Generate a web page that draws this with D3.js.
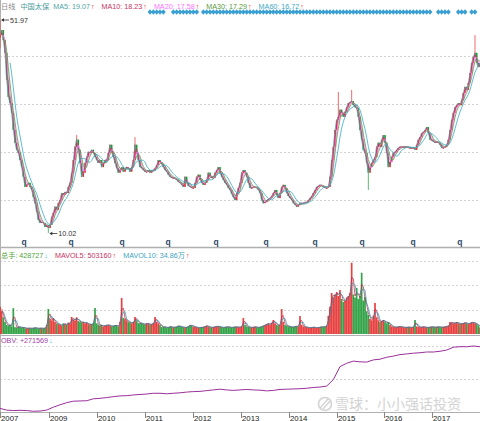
<!DOCTYPE html>
<html><head><meta charset="utf-8">
<script src="https://cdn.jsdelivr.net/npm/d3@7"></script>
<style>body{margin:0;background:#fff}svg{display:block}text{font-family:"Liberation Sans",Arial,"Noto Sans CJK SC",sans-serif}</style>
</head><body><svg id="c" width="480" height="421"></svg>
<script>
// ---- data (one value per ~12.7 calendar days) ----
const closes = [
49.0,50.0,48.0,45.5,40.2,36.8,35.6,33.7,30.3,27.8,
26.4,25.8,24.4,23.0,21.1,19.1,19.5,19.9,19.1,18.5,
17.1,15.9,14.2,12.6,12.0,12.2,12.0,11.2,11.6,11.0,
11.6,13.2,14.0,15.2,14.6,15.9,16.5,17.9,17.5,18.1,
17.9,19.1,19.9,21.9,24.4,27.0,28.4,26.4,23.8,21.1,
21.9,23.8,25.0,26.0,25.8,26.4,25.8,25.0,24.4,23.8,
24.4,23.0,23.8,24.4,24.4,25.8,27.4,26.0,25.0,23.8,
22.8,21.9,22.4,23.0,22.1,22.8,23.0,22.8,22.1,23.0,
24.4,27.4,25.8,24.4,23.0,22.8,22.4,22.1,22.1,22.4,
21.9,22.4,22.4,22.8,23.4,24.4,24.0,23.6,23.0,22.4,
22.1,21.5,21.1,20.9,20.9,20.7,20.5,20.1,19.9,19.5,
19.1,21.1,19.9,19.3,19.1,18.9,18.9,19.9,21.1,21.5,
20.5,19.9,19.5,19.9,20.5,21.9,21.1,20.9,20.9,21.9,
22.4,23.0,21.9,21.1,20.5,19.9,19.5,18.9,18.5,17.7,
17.1,16.5,17.9,18.9,19.9,21.9,22.4,21.9,21.1,19.9,
18.9,18.9,19.1,19.1,18.9,18.5,17.9,16.5,15.9,16.1,
16.5,16.7,16.9,17.3,17.9,18.5,17.5,16.9,17.9,19.1,
19.5,18.9,17.9,17.3,16.9,16.5,15.9,15.6,15.2,15.6,
15.9,15.9,15.9,16.1,16.1,16.5,16.9,17.3,17.9,18.5,
19.1,19.3,19.5,19.3,19.1,18.9,18.9,19.1,21.1,24.4,
27.0,30.3,32.3,32.9,34.3,33.7,32.9,33.9,34.8,35.6,
35.8,36.0,35.2,34.8,34.6,32.9,30.3,28.4,26.4,25.8,
23.8,21.9,23.0,23.8,24.4,25.0,27.0,27.8,27.0,28.4,
29.3,27.8,25.8,23.0,24.0,25.0,25.8,26.0,26.4,26.8,
27.0,27.0,27.0,27.0,27.0,26.8,26.8,26.8,26.8,26.4,
27.4,28.4,28.9,29.7,29.9,30.3,30.9,29.7,28.4,28.4,
28.0,27.8,28.0,27.8,27.4,26.8,26.8,27.0,27.4,28.4,
30.3,32.3,33.7,34.8,35.2,35.6,35.2,36.2,37.6,38.8,
38.2,39.6,41.5,43.5,44.7,45.5,43.5,42.7,43.5];
const firstOpen = 48.5;
const wickHighs = [[0,51.97],[46,29.3],[81,28.9],[203,37.8],[211,38.2],[285,49.0]];
const wickLows = [[0,46.5],[29,10.02],[221,18.5]];
// volume in 万手
const volumes = [
180,150,110,80,60,55,60,50,170,45,
40,50,45,40,45,38,35,40,38,36,
40,42,38,35,40,38,36,40,60,165,
100,90,105,80,70,65,60,55,70,65,
60,75,70,112,95,90,110,85,80,75,
79,70,75,65,60,65,70,171,70,60,
55,59,50,55,60,59,55,50,52,59,
55,50,80,237,105,100,90,80,75,70,
80,112,90,72,70,72,65,60,72,68,
60,65,70,112,80,70,60,46,45,48,
40,44,50,46,42,45,48,55,50,46,
44,42,45,50,60,55,48,46,44,40,
42,45,46,50,55,48,44,42,46,48,
52,50,46,44,42,45,48,46,44,42,
45,48,46,44,45,50,105,60,50,46,
44,42,46,48,44,42,46,50,55,60,
65,70,60,75,92,70,60,55,60,164,
80,60,55,50,48,46,45,50,52,48,
118,60,50,46,44,42,40,44,46,42,
40,44,46,48,46,50,55,120,180,270,
240,260,276,250,289,230,210,220,240,250,
270,469,260,240,303,230,250,403,220,243,
150,125,100,90,120,204,110,90,79,85,
92,80,70,79,60,50,46,44,46,48,
50,46,44,42,45,46,44,42,46,92,
50,46,44,46,48,45,42,44,46,48,
46,44,46,48,45,44,46,48,50,55,
79,75,70,72,79,70,65,68,72,75,
70,65,72,79,75,70,65,55,43];
// OBV (万手), sampled every 4th bar
const obvStep = 4;
const obv = [
1.5,0.8,0.6,0.7,0.6,0.3,0.4,0.8,2.0,3.0,
3.9,4.5,4.6,4.7,5.5,5.7,6.0,6.4,6.7,6.8,
7.1,7.3,7.5,7.8,7.8,7.6,7.8,8.0,8.3,8.5,
8.6,8.9,9.2,9.5,9.2,9.0,9.2,9.4,9.2,9.1,
8.8,9.0,9.4,9.5,9.6,9.7,9.9,10.2,10.4,10.8,
13.5,18.9,20.3,21.2,20.9,20.8,21.7,22.0,22.8,23.3,
23.9,24.2,24.5,24.7,25.0,25.0,25.3,25.8,27.0,27.2,
27.2,27.5,27.2];
const priceGrid = [44.88,35.43,25.98,16.53];
const volGrid = [160,320,480];
const obvGrid = [13.75,27.5];
const yearTicks = [["2007-12-25","2007"],["2009-01-01","2009"],["2010-01-01","2010"],["2011-01-01","2011"],["2012-01-01","2012"],["2013-01-01","2013"],["2014-01-01","2014"],["2015-01-01","2015"],["2016-01-01","2016"],["2017-01-01","2017"]];
const dividendDates = ["2008-06-25","2009-06-18","2010-07-12","2011-06-27","2012-06-27","2013-07-13","2014-07-21","2015-07-14","2016-08-06","2017-07-29"];
const markerRanges = [[90,99],[104,119],[122,259],[263,270],[275,280],[283,285]];
const maDefs = [["MA5","19.07",1,"#4ea5a5"],["MA10","18.23",2,"#c8325e"],["MA20","17.58",3,"#ff70ff"],["MA30","17.29",4,"#5a9a3c"],["MA60","16.72",7,"#3aa8c8"]];
const volHeader = [["总手: 428727","↓","#52a43a","#3cc0e0"],["MAVOL5: 503160","↑","#c8325e","#ff2020"],["MAVOL10: 34.86万","↑","#43a3c0","#ff2020"]];
const obvHeader = ["OBV: +271569","↓","#a040a8","#3cc0e0"];

// ---- drawing ----
const svg = d3.select("#c");
const N = closes.length;
const parse = d3.timeParse("%Y-%m-%d");
const x = d3.scaleLinear().domain([0, N-1]).range([0, 480]);
const xt = d3.scaleTime().domain([new Date(2007,11,25), new Date(2017,11,29)]).range([0, 480]);
const y = d3.scaleLinear().domain([10.02, 51.97]).range([233, 20]);
const yv = d3.scaleLinear().domain([0, 500]).range([334, 258]);
const yo = d3.scaleLinear().domain([0, 30]).range([412, 340]);
const UP = "#e62c2c", DN = "#1e9a36";

const opens = closes.map((c,i) => i ? closes[i-1] : firstOpen);
const hiMap = new Map(wickHighs), loMap = new Map(wickLows);
const bars = closes.map((c,i) => {
  const o = opens[i];
  return {i, o, c, up: c >= o,
    h: Math.max(o, c, hiMap.has(i) ? hiMap.get(i) : -Infinity),
    l: Math.min(o, c, loMap.has(i) ? loMap.get(i) : Infinity),
    v: volumes[i]};
});

// grids
const grid = svg.append("g").attr("stroke","#c8c8c8").attr("stroke-dasharray","2,2").attr("stroke-width",0.8);
priceGrid.forEach(p => grid.append("line").attr("x1",0).attr("x2",480).attr("y1",Math.round(y(p))+0.5).attr("y2",Math.round(y(p))+0.5));
volGrid.forEach(p => grid.append("line").attr("x1",0).attr("x2",480).attr("y1",Math.round(yv(p))+0.5).attr("y2",Math.round(yv(p))+0.5));
obvGrid.forEach(p => grid.append("line").attr("x1",0).attr("x2",480).attr("y1",Math.round(yo(p))+0.5).attr("y2",Math.round(yo(p))+0.5));

// separators
const sep = svg.append("g").attr("stroke","#b0b0b0");
sep.append("line").attr("x1",0).attr("x2",480).attr("y1",247.5).attr("y2",247.5).attr("stroke-width",1.5);
sep.append("line").attr("x1",0).attr("x2",480).attr("y1",335.5).attr("y2",335.5);
sep.append("line").attr("x1",0).attr("x2",480).attr("y1",412.5).attr("y2",412.5);
sep.append("line").attr("x1",0.5).attr("x2",0.5).attr("y1",0).attr("y2",412);

// candles
const bw = 1.5;
const cg = svg.append("g");
cg.selectAll("line").data(bars).join("line")
  .attr("x1",d=>x(d.i)).attr("x2",d=>x(d.i)).attr("y1",d=>y(d.h)).attr("y2",d=>y(d.l))
  .attr("stroke",d=>d.up?UP:DN).attr("stroke-width",0.7);
cg.selectAll("rect").data(bars).join("rect")
  .attr("x",d=>x(d.i)-bw/2).attr("width",bw)
  .attr("y",d=>y(Math.max(d.o,d.c))).attr("height",d=>Math.max(1,Math.abs(y(d.o)-y(d.c))))
  .attr("fill",d=>d.up?UP:DN);

// moving averages
function ma(arr, w){ return arr.map((_,i)=> i < w-1 ? null : d3.mean(arr.slice(i-w+1,i+1))); }
maDefs.forEach(([name,val,w,col]) => {
  const m = ma(closes, w);
  svg.append("path").datum(m)
    .attr("d", d3.line().defined(v=>v!=null).x((v,i)=>x(i)).y(v=>y(v)))
    .attr("fill","none").attr("stroke",col).attr("stroke-width",0.8);
});

// extreme labels
function extremeLabel(i, p, text, dy){
  const g = svg.append("g");
  const x0 = x(i)+1, yy = y(p)+dy;
  g.append("line").attr("x1",x0+1).attr("x2",x0+8).attr("y1",yy).attr("y2",yy).attr("stroke","#333").attr("stroke-width",0.8);
  g.append("path").attr("d",`M${x0},${yy}L${x0+3},${yy-1.8}L${x0+3},${yy+1.8}Z`).attr("fill","#333");
  g.append("text").attr("x",x0+9).attr("y",yy+2.5).attr("font-size",7.2).attr("fill","#333").text(text);
}
extremeLabel(0, 51.97, "51.97", 0);
extremeLabel(29, 10.02, "10.02", 0.5);

// header
const hdr = svg.append("text").attr("x",1).attr("y",8.5).attr("font-size",7.2);
hdr.append("tspan").attr("fill","#888").text("日线");
hdr.append("tspan").attr("dx",5).attr("fill","#4b9c9c").text("中国太保");
maDefs.forEach(([name,val,w,col],k) => {
  hdr.append("tspan").attr("dx", k===0?4:7).attr("fill",col).text(`${name}: ${val}`);
  hdr.append("tspan").attr("dx",1).attr("fill","#ff2020").text("↑");
});

// blue markers
const mk = svg.append("g").attr("fill","#3a9fd3").attr("stroke","#3a9fd3");
markerRanges.forEach(([a,b]) => {
  mk.append("line").attr("x1",x(a)).attr("x2",x(b)).attr("y1",12).attr("y2",12).attr("stroke-width",1.2);
  d3.range(a, b+1, 2).forEach(i => mk.append("path").attr("transform",`translate(${x(i)},12) scale(1.5,1)`).attr("d",d3.symbol(d3.symbolDiamond,9)()).attr("stroke","none"));
});

// dividend q markers
svg.append("g").selectAll("text").data(dividendDates).join("text")
  .attr("x",d=>xt(parse(d))).attr("y",244.5).attr("text-anchor","middle")
  .attr("font-size",8.5).attr("font-weight","bold").attr("fill","#2f4a66").text("q");

// volume
const vg = svg.append("g");
vg.selectAll("rect").data(bars).join("rect")
  .attr("x",d=>x(d.i)-0.85).attr("width",1.7)
  .attr("y",d=>yv(d.v)).attr("height",d=>yv(0)-yv(d.v))
  .attr("fill",d=>d.up?UP:DN).attr("opacity",0.9);
[[2,"#b02848"],[3,"#2f8fa8"]].forEach(([w,col]) => {
  svg.append("path").datum(ma(volumes,w))
    .attr("d", d3.line().defined(v=>v!=null).x((v,i)=>x(i)).y(v=>yv(v)))
    .attr("fill","none").attr("stroke",col).attr("stroke-width",0.7);
});
const vh = svg.append("text").attr("x",1).attr("y",257.5).attr("font-size",7.2);
volHeader.forEach(([t,a,c1,c2],k) => {
  vh.append("tspan").attr("dx",k?7:0).attr("fill",c1).text(t);
  vh.append("tspan").attr("dx",1).attr("fill",c2).text(a);
});

// OBV
svg.append("path").datum(obv)
  .attr("d", d3.line().x((v,k)=>x(k*obvStep)).y(v=>yo(v)))
  .attr("fill","none").attr("stroke","#9b2f9b").attr("stroke-width",1);
const oh = svg.append("text").attr("x",1).attr("y",342.5).attr("font-size",7.2);
oh.append("tspan").attr("fill",obvHeader[2]).text(obvHeader[0]);
oh.append("tspan").attr("dx",1).attr("fill",obvHeader[3]).text(obvHeader[1]);

// x axis
const ax = svg.append("g");
yearTicks.forEach(([d,l]) => {
  const xx = Math.round(xt(parse(d)))+0.5;
  ax.append("line").attr("x1",xx).attr("x2",xx).attr("y1",412).attr("y2",418).attr("stroke","#888");
  ax.append("text").attr("x",xx+0.5).attr("y",420.5).attr("font-size",7.8).attr("fill","#222").text(l);
});

// watermark
const wm = svg.append("g").attr("opacity",0.9);
wm.append("circle").attr("cx",325).attr("cy",404).attr("r",6.5).attr("fill","none").attr("stroke","#cfcfcf").attr("stroke-width",1.6);
wm.append("path").attr("d","M320,408L328,399M323,409L330,401").attr("stroke","#cfcfcf").attr("stroke-width",1.4);
wm.append("text").attr("x",335).attr("y",409).attr("font-size",14).attr("fill","#cfcfcf")
  .style("font-family","'Noto Sans CJK SC',sans-serif").text("雪球：小小强话投资");
</script></body></html>
